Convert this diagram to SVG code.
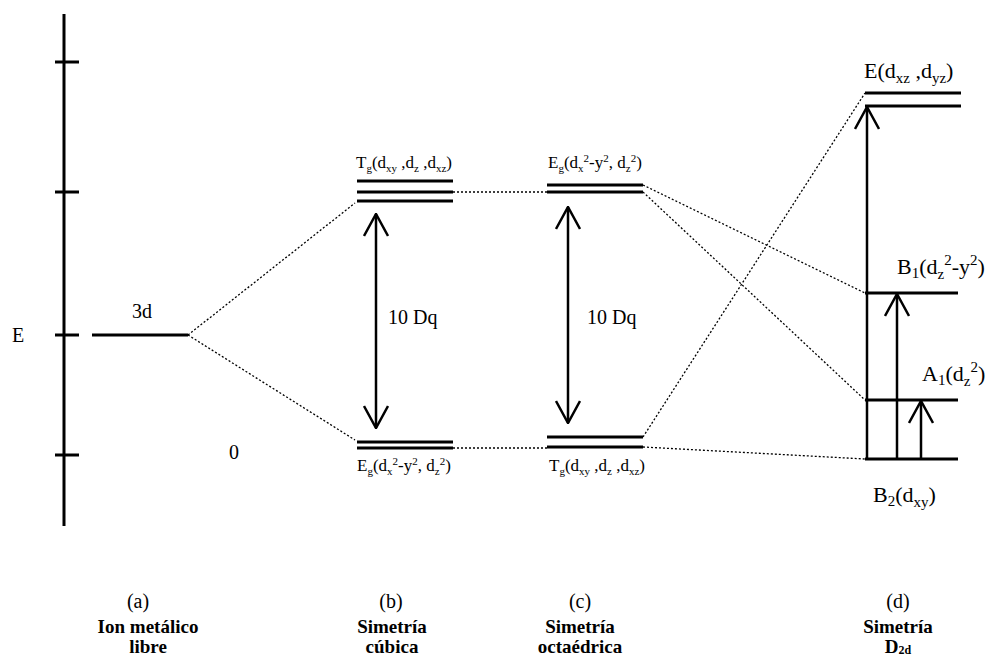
<svg xmlns="http://www.w3.org/2000/svg" width="993" height="657" viewBox="0 0 993 657">
<style>
.lvl{stroke:#000;stroke-width:3;fill:none}
.ax{stroke:#000;stroke-width:3;fill:none}
.dot{stroke:#000;stroke-width:1.3;stroke-dasharray:2 2;fill:none}
.arr{stroke:#000;stroke-width:2.5;fill:none}
.t{font-family:"Liberation Serif","Times New Roman",serif;font-size:17px;fill:#000}
.tl{font-family:"Liberation Serif","Times New Roman",serif;font-size:22px;fill:#000}
.big{font-family:"Liberation Serif","Times New Roman",serif;font-size:20px;fill:#000}
.b{font-family:"Liberation Serif","Times New Roman",serif;font-size:19px;font-weight:bold;fill:#000;text-anchor:middle}
.m{text-anchor:middle}
.s{font-size:11px}
.ss{font-size:15px}
</style>
<defs>
<marker id="chev" viewBox="0 0 24 26" refX="23" refY="13" markerWidth="24" markerHeight="26" markerUnits="userSpaceOnUse" orient="auto-start-reverse">
<path d="M1,1 L23,13 L1,25" fill="none" stroke="#000" stroke-width="2.5"/>
</marker>
</defs>
<g id="axis">
<line class="ax" x1="64" y1="14" x2="64" y2="526"/>
<line class="ax" x1="55" y1="62" x2="79" y2="62"/>
<line class="ax" x1="55" y1="192" x2="79" y2="192"/>
<line class="ax" x1="55" y1="335" x2="79" y2="335"/>
<line class="ax" x1="55" y1="455" x2="79" y2="455"/>
<text class="big" x="12" y="342" font-size="22">E</text>
</g>
<g id="free-ion">
<line class="lvl" x1="92" y1="335" x2="188" y2="335"/>
<text class="big" x="132" y="318">3d</text>
<text class="big" x="229" y="459">0</text>
</g>
<g id="cubic">
<line class="lvl" x1="357" y1="181" x2="453" y2="181"/>
<line class="lvl" x1="357" y1="192" x2="453" y2="192"/>
<line class="lvl" x1="357" y1="201" x2="453" y2="201"/>
<line class="lvl" x1="357" y1="442" x2="453" y2="442"/>
<line class="lvl" x1="357" y1="448" x2="453" y2="448"/>
<text class="t" x="356" y="168">T<tspan class="s" dy="4">g</tspan><tspan dy="-4">(d</tspan><tspan class="s" dy="4">xy</tspan><tspan dy="-4"> ,d</tspan><tspan class="s" dy="4">z</tspan><tspan dy="-4"> ,d</tspan><tspan class="s" dy="4">xz</tspan><tspan dy="-4">)</tspan></text>
<text class="t" x="357" y="471">E<tspan class="s" dy="4">g</tspan><tspan dy="-4">(d</tspan><tspan class="s" dy="4">x</tspan><tspan class="s" dy="-10">2</tspan><tspan dy="6">-y</tspan><tspan class="s" dy="-6">2</tspan><tspan dy="6">, d</tspan><tspan class="s" dy="4">z</tspan><tspan class="s" dy="-10">2</tspan><tspan dy="6">)</tspan></text>
<text class="big" x="388" y="324">10 Dq</text>
</g>
<g id="octahedral">
<line class="lvl" x1="547" y1="185" x2="643" y2="185"/>
<line class="lvl" x1="547" y1="192" x2="643" y2="192"/>
<line class="lvl" x1="547" y1="437" x2="643" y2="437"/>
<line class="lvl" x1="547" y1="447" x2="643" y2="447"/>
<text class="t" x="548" y="168">E<tspan class="s" dy="4">g</tspan><tspan dy="-4">(d</tspan><tspan class="s" dy="4">x</tspan><tspan class="s" dy="-10">2</tspan><tspan dy="6">-y</tspan><tspan class="s" dy="-6">2</tspan><tspan dy="6">, d</tspan><tspan class="s" dy="4">z</tspan><tspan class="s" dy="-10">2</tspan><tspan dy="6">)</tspan></text>
<text class="t" x="549" y="471">T<tspan class="s" dy="4">g</tspan><tspan dy="-4">(d</tspan><tspan class="s" dy="4">xy</tspan><tspan dy="-4"> ,d</tspan><tspan class="s" dy="4">z</tspan><tspan dy="-4"> ,d</tspan><tspan class="s" dy="4">xz</tspan><tspan dy="-4">)</tspan></text>
<text class="big" x="587" y="324">10 Dq</text>
</g>
<g id="d2d">
<line class="lvl" x1="865" y1="93" x2="961" y2="93"/>
<line class="lvl" x1="865" y1="106" x2="961" y2="106"/>
<line class="lvl" x1="865" y1="293" x2="958" y2="293"/>
<line class="lvl" x1="865" y1="400" x2="958" y2="400"/>
<line class="lvl" x1="865" y1="459" x2="958" y2="459"/>
<text class="tl" x="864" y="78">E(d<tspan class="ss" dy="5">xz</tspan><tspan dy="-5"> ,d</tspan><tspan class="ss" dy="5">yz</tspan><tspan dy="-5">)</tspan></text>
<text class="tl" x="897" y="274">B<tspan class="ss" dy="4">1</tspan><tspan dy="-4">(d</tspan><tspan class="ss" dy="5">z</tspan><tspan class="ss" dy="-14">2</tspan><tspan dy="9">-y</tspan><tspan class="ss" dy="-9">2</tspan><tspan dy="9">)</tspan></text>
<text class="tl" x="922" y="381">A<tspan class="ss" dy="4">1</tspan><tspan dy="-4">(d</tspan><tspan class="ss" dy="5">z</tspan><tspan class="ss" dy="-14">2</tspan><tspan dy="9">)</tspan></text>
<text class="tl" x="873" y="502">B<tspan class="ss" dy="4">2</tspan><tspan dy="-4">(d</tspan><tspan class="ss" dy="5">xy</tspan><tspan dy="-5">)</tspan></text>
</g>
<g id="connectors">
<line class="dot" x1="188" y1="335" x2="355" y2="203"/>
<line class="dot" x1="188" y1="335" x2="355" y2="440"/>
<line class="dot" x1="453" y1="192" x2="547" y2="192"/>
<line class="dot" x1="453" y1="448" x2="547" y2="448"/>
<line class="dot" x1="643" y1="185" x2="865" y2="293"/>
<line class="dot" x1="643" y1="192" x2="865" y2="400"/>
<line class="dot" x1="643" y1="437" x2="865" y2="93"/>
<line class="dot" x1="643" y1="447" x2="865" y2="459"/>
<line class="arr" x1="376" y1="214" x2="376" y2="428" marker-start="url(#chev)" marker-end="url(#chev)"/>
<line class="arr" x1="568" y1="207" x2="568" y2="423" marker-start="url(#chev)" marker-end="url(#chev)"/>
<line class="arr" x1="867" y1="459" x2="867" y2="107" marker-end="url(#chev)"/>
<line class="arr" x1="897" y1="459" x2="897" y2="294" marker-end="url(#chev)"/>
<line class="arr" x1="921" y1="459" x2="921" y2="401" marker-end="url(#chev)"/>
</g>
<g id="captions">
<text class="big m" x="138" y="608">(a)</text>
<text class="big m" x="391" y="608">(b)</text>
<text class="big m" x="580" y="608">(c)</text>
<text class="big m" x="898" y="608">(d)</text>
<text class="b" x="148" y="633">Ion metálico</text>
<text class="b" x="148" y="653">libre</text>
<text class="b" x="392" y="633">Simetría</text>
<text class="b" x="392" y="653">cúbica</text>
<text class="b" x="580" y="633">Simetría</text>
<text class="b" x="580" y="653">octaédrica</text>
<text class="b" x="898" y="633">Simetría</text>
<text class="b" x="898" y="653">D<tspan font-size="12" dy="1">2d</tspan></text>
</g>
</svg>
